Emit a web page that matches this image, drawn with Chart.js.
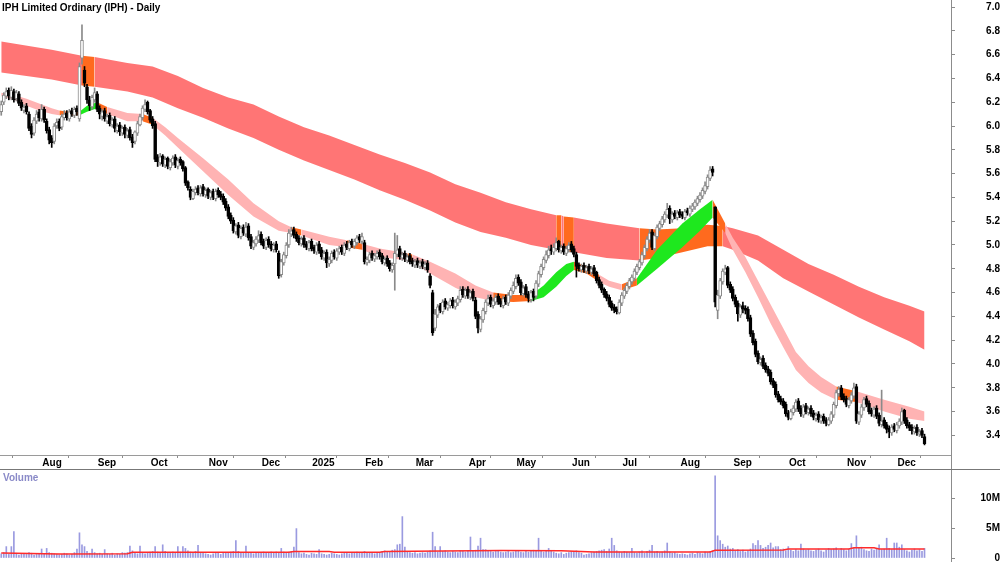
<!DOCTYPE html>
<html>
<head>
<meta charset="utf-8">
<script src="https://cdn.jsdelivr.net/npm/chart.js@4.4.1/dist/chart.umd.min.js"></script>
<style>
  body { margin: 0; width: 1000px; height: 562px; overflow: hidden; position: relative; background: #fff; font-family: "Liberation Sans", Arial, sans-serif; }
  #priceChart { position: absolute; left: 0; top: 0; }
  #volChart { position: absolute; left: 0; top: 470px; }
  .title { position: absolute; left: 2px; top: 2px; font-size: 10px; line-height: 12px; font-weight: bold; color: #000; }
  .volLabel { position: absolute; left: 3px; top: 472px; font-size: 10px; line-height: 12px; font-weight: bold; color: #8a8ac8; }
  .vline { position: absolute; left: 951px; top: 0; width: 1px; height: 562px; background: #8c8c8c; }
  .hline { position: absolute; left: 0; top: 469px; width: 1000px; height: 1px; background: #777; }
</style>
</head>
<body>
<canvas id="priceChart" width="1000" height="470"></canvas>
<canvas id="volChart" width="1000" height="92"></canvas>
<div class="vline"></div>
<div class="hline"></div>
<div class="title">IPH Limited Ordinary (IPH) - Daily</div>
<div class="volLabel">Volume</div>
<script>
// daily candles, 10 Jul 2024 .. 16 Dec 2025 (index = trading day)
const opens = [
6.12,6.20,6.25,6.30,6.24,6.29,6.23,6.27,6.20,6.13,
6.17,6.10,6.00,5.94,6.04,6.12,6.06,6.14,6.04,5.97,
5.90,5.87,6.00,6.04,5.99,6.07,6.11,6.06,6.13,6.09,
6.15,6.06,6.57,6.47,6.33,6.22,6.16,6.22,6.27,6.15,
6.08,6.13,6.04,6.09,6.01,6.06,5.96,6.01,5.94,5.99,
5.92,5.97,5.91,5.87,5.94,6.01,6.07,6.14,6.20,6.13,
6.06,6.02,5.74,5.69,5.75,5.67,5.73,5.65,5.69,5.74,
5.66,5.72,5.70,5.65,5.53,5.47,5.39,5.44,5.48,5.43,
5.49,5.42,5.47,5.40,5.45,5.39,5.46,5.43,5.41,5.37,
5.32,5.25,5.21,5.11,5.17,5.07,5.15,5.09,5.16,5.07,
4.98,5.01,5.04,5.09,5.03,4.98,5.05,5.01,4.96,5.01,
4.93,4.75,4.85,4.91,5.00,5.09,5.13,5.09,5.06,5.01,
5.06,5.01,4.97,5.03,4.98,4.94,5.01,4.96,4.89,4.94,
4.84,4.87,4.94,4.89,4.94,4.98,4.93,5.01,4.97,5.03,
4.99,5.02,5.07,5.03,5.02,4.85,4.87,4.93,4.88,4.90,
4.94,4.91,4.85,4.89,4.85,4.79,4.84,4.92,4.97,4.89,
4.93,4.87,4.91,4.87,4.83,4.87,4.82,4.86,4.81,4.85,
4.74,4.60,4.30,4.41,4.49,4.44,4.53,4.47,4.49,4.54,
4.48,4.51,4.54,4.63,4.57,4.63,4.56,4.61,4.54,4.42,
4.29,4.37,4.44,4.51,4.56,4.49,4.52,4.57,4.53,4.49,
4.56,4.51,4.57,4.61,4.65,4.73,4.69,4.59,4.65,4.59,
4.54,4.61,4.57,4.67,4.75,4.81,4.87,4.91,4.97,4.94,
4.97,5.03,4.95,4.99,4.93,4.96,5.01,4.97,4.92,4.83,
4.79,4.83,4.78,4.82,4.77,4.81,4.77,4.71,4.67,4.63,
4.59,4.56,4.51,4.48,4.46,4.43,4.51,4.57,4.61,4.65,
4.69,4.72,4.77,4.81,4.85,4.91,4.97,5.04,5.11,4.97,
5.07,5.14,5.17,5.21,5.25,5.31,5.21,5.27,5.23,5.28,
5.26,5.23,5.29,5.26,5.30,5.32,5.35,5.38,5.41,5.45,
5.49,5.56,5.64,5.32,4.45,4.57,4.69,4.77,4.81,4.67,
4.63,4.56,4.51,4.41,4.49,4.47,4.46,4.39,4.26,4.19,
4.09,4.01,4.05,3.99,3.96,3.93,3.86,3.83,3.75,3.71,
3.69,3.66,3.59,3.54,3.59,3.62,3.69,3.63,3.57,3.65,
3.59,3.63,3.59,3.54,3.58,3.52,3.56,3.53,3.49,3.52,
3.57,3.65,3.75,3.80,3.73,3.71,3.65,3.69,3.73,3.81,
3.51,3.57,3.63,3.71,3.67,3.61,3.57,3.63,3.57,3.49,
3.53,3.49,3.46,3.42,3.48,3.44,3.48,3.51,3.61,3.53,
3.49,3.47,3.43,3.47,3.41,3.44,3.39
];
const highs = [
6.21,6.28,6.32,6.32,6.33,6.31,6.30,6.29,6.22,6.18,
6.19,6.12,6.02,6.07,6.13,6.14,6.18,6.16,6.06,5.99,
5.92,6.02,6.06,6.06,6.10,6.13,6.13,6.14,6.15,6.16,
6.17,6.53,6.85,6.50,6.35,6.25,6.26,6.32,6.29,6.17,
6.14,6.15,6.10,6.11,6.07,6.08,6.02,6.03,6.00,6.01,
5.98,5.99,5.93,5.96,6.04,6.10,6.17,6.22,6.21,6.14,
6.08,6.04,5.76,5.77,5.76,5.74,5.74,5.72,5.75,5.76,
5.73,5.74,5.71,5.66,5.54,5.49,5.47,5.49,5.50,5.50,
5.51,5.48,5.48,5.46,5.47,5.47,5.48,5.45,5.43,5.39,
5.34,5.27,5.23,5.18,5.19,5.16,5.17,5.19,5.18,5.09,
5.04,5.07,5.12,5.11,5.05,5.06,5.07,5.03,5.02,5.03,
4.95,4.88,4.94,5.02,5.13,5.15,5.15,5.11,5.08,5.07,
5.08,5.03,5.04,5.05,5.00,5.02,5.03,4.98,4.95,4.96,
4.90,4.95,4.96,4.97,4.99,5.00,5.02,5.03,5.04,5.05,
5.05,5.08,5.09,5.10,5.04,4.90,4.94,4.95,4.93,4.95,
4.96,4.93,4.90,4.91,4.87,4.85,5.10,5.08,4.99,4.94,
4.95,4.92,4.93,4.89,4.88,4.89,4.87,4.88,4.86,4.87,
4.76,4.62,4.46,4.50,4.51,4.54,4.55,4.52,4.55,4.56,
4.54,4.57,4.65,4.65,4.64,4.65,4.62,4.63,4.56,4.44,
4.40,4.47,4.54,4.58,4.58,4.55,4.58,4.59,4.55,4.57,
4.58,4.60,4.64,4.69,4.75,4.75,4.71,4.66,4.67,4.61,
4.62,4.63,4.70,4.78,4.84,4.90,4.95,4.99,5.00,5.01,
5.06,5.04,5.00,5.01,4.99,5.02,5.03,4.99,4.94,4.85,
4.84,4.85,4.83,4.84,4.82,4.83,4.78,4.73,4.69,4.64,
4.61,4.58,4.53,4.50,4.48,4.54,4.60,4.64,4.68,4.72,
4.75,4.80,4.84,4.88,4.94,5.00,5.07,5.13,5.13,5.10,
5.17,5.20,5.24,5.28,5.35,5.33,5.28,5.29,5.29,5.30,
5.28,5.30,5.31,5.33,5.35,5.38,5.41,5.44,5.48,5.53,
5.59,5.66,5.66,5.32,4.62,4.72,4.80,4.83,4.82,4.69,
4.65,4.58,4.53,4.50,4.52,4.49,4.48,4.41,4.28,4.21,
4.11,4.06,4.07,4.01,3.98,3.95,3.88,3.85,3.77,3.73,
3.71,3.68,3.61,3.62,3.65,3.70,3.71,3.65,3.66,3.67,
3.64,3.65,3.61,3.59,3.60,3.57,3.58,3.55,3.55,3.60,
3.68,3.78,3.81,3.82,3.75,3.73,3.72,3.76,3.84,3.83,
3.60,3.66,3.72,3.73,3.69,3.63,3.64,3.65,3.59,3.78,
3.55,3.51,3.48,3.49,3.50,3.51,3.54,3.63,3.62,3.55,
3.51,3.49,3.48,3.49,3.45,3.46,3.41
];
const lows = [
6.09,6.18,6.23,6.22,6.22,6.20,6.21,6.17,6.13,6.11,
6.10,5.96,5.90,5.92,6.02,6.04,6.04,6.03,5.94,5.85,
5.82,5.85,5.98,5.96,5.97,6.05,6.05,6.04,6.08,6.07,
6.09,6.04,6.52,6.33,6.19,6.13,6.14,6.20,6.12,6.06,
6.05,6.04,6.02,6.00,5.99,5.95,5.94,5.92,5.92,5.90,
5.90,5.88,5.82,5.85,5.92,6.00,6.05,6.12,6.10,6.03,
5.98,5.70,5.66,5.67,5.66,5.65,5.64,5.63,5.67,5.65,
5.64,5.67,5.62,5.50,5.46,5.38,5.38,5.42,5.42,5.41,
5.41,5.40,5.39,5.38,5.38,5.37,5.40,5.38,5.34,5.29,
5.22,5.18,5.10,5.09,5.06,5.05,5.08,5.07,5.04,4.97,
4.96,4.99,5.02,5.00,4.97,4.96,4.98,4.95,4.94,4.94,
4.72,4.73,4.83,4.89,4.98,5.07,5.06,5.03,5.00,4.99,
4.98,4.96,4.95,4.95,4.93,4.92,4.93,4.88,4.87,4.81,
4.82,4.85,4.88,4.87,4.92,4.92,4.91,4.96,4.95,4.98,
4.97,5.00,5.02,5.01,4.84,4.83,4.85,4.87,4.86,4.88,
4.88,4.84,4.83,4.82,4.78,4.77,4.62,4.90,4.88,4.87,
4.86,4.85,4.84,4.82,4.81,4.81,4.80,4.80,4.79,4.77,
4.64,4.24,4.28,4.39,4.43,4.42,4.46,4.45,4.47,4.47,
4.46,4.49,4.52,4.56,4.55,4.55,4.54,4.53,4.38,4.26,
4.27,4.35,4.42,4.49,4.48,4.47,4.50,4.50,4.48,4.47,
4.50,4.49,4.55,4.59,4.63,4.66,4.58,4.57,4.56,4.52,
4.52,4.53,4.55,4.65,4.73,4.79,4.85,4.89,4.92,4.92,
4.95,4.94,4.93,4.92,4.91,4.94,4.94,4.90,4.73,4.78,
4.77,4.77,4.76,4.76,4.75,4.74,4.68,4.64,4.60,4.56,
4.53,4.48,4.45,4.43,4.42,4.42,4.49,4.55,4.59,4.63,
4.67,4.70,4.75,4.79,4.83,4.89,4.95,5.02,4.96,4.95,
5.05,5.12,5.15,5.19,5.23,5.18,5.19,5.22,5.21,5.23,
5.22,5.21,5.25,5.24,5.28,5.30,5.33,5.36,5.39,5.43,
5.47,5.54,5.58,4.48,4.38,4.55,4.67,4.75,4.64,4.60,
4.53,4.48,4.36,4.39,4.43,4.42,4.36,4.23,4.16,4.06,
4.00,3.99,3.96,3.93,3.90,3.83,3.80,3.72,3.68,3.66,
3.63,3.56,3.53,3.53,3.57,3.60,3.60,3.56,3.55,3.58,
3.57,3.56,3.53,3.52,3.51,3.50,3.50,3.48,3.48,3.50,
3.55,3.63,3.73,3.70,3.68,3.64,3.63,3.67,3.71,3.50,
3.49,3.55,3.61,3.64,3.58,3.56,3.55,3.54,3.48,3.47,
3.46,3.42,3.38,3.40,3.43,3.42,3.46,3.49,3.50,3.46,
3.44,3.41,3.41,3.40,3.39,3.38,3.32
];
const closes = [
6.18,6.26,6.29,6.25,6.30,6.22,6.28,6.19,6.15,6.16,
6.12,5.98,5.93,6.05,6.10,6.07,6.14,6.05,5.96,5.88,
5.86,6.00,6.03,5.98,6.08,6.10,6.07,6.12,6.10,6.14,
6.12,6.50,6.72,6.36,6.22,6.17,6.24,6.28,6.14,6.10,
6.12,6.06,6.08,6.02,6.05,5.98,6.00,5.95,5.98,5.93,
5.96,5.90,5.86,5.95,6.02,6.08,6.15,6.18,6.12,6.05,
6.00,5.72,5.70,5.74,5.68,5.72,5.66,5.70,5.73,5.67,
5.71,5.69,5.64,5.52,5.48,5.40,5.45,5.47,5.44,5.48,
5.43,5.46,5.41,5.44,5.40,5.45,5.42,5.40,5.36,5.31,
5.24,5.20,5.12,5.16,5.08,5.14,5.10,5.15,5.06,4.99,
5.02,5.05,5.08,5.02,4.99,5.04,5.00,4.97,5.00,4.96,
4.74,4.86,4.92,5.00,5.10,5.12,5.08,5.05,5.02,5.05,
5.00,4.98,5.02,4.97,4.95,5.00,4.95,4.90,4.93,4.85,
4.88,4.93,4.90,4.95,4.97,4.94,5.00,4.98,5.02,5.00,
5.03,5.06,5.04,5.07,4.86,4.88,4.92,4.89,4.91,4.93,
4.90,4.86,4.88,4.84,4.80,4.83,4.93,4.96,4.90,4.92,
4.88,4.90,4.86,4.84,4.86,4.83,4.85,4.82,4.84,4.79,
4.66,4.26,4.42,4.48,4.45,4.52,4.48,4.50,4.53,4.49,
4.52,4.55,4.62,4.58,4.62,4.57,4.60,4.55,4.40,4.30,
4.38,4.45,4.52,4.55,4.50,4.53,4.56,4.52,4.50,4.55,
4.52,4.58,4.62,4.66,4.72,4.68,4.60,4.64,4.58,4.55,
4.60,4.56,4.68,4.76,4.82,4.88,4.92,4.96,4.95,4.98,
5.02,4.96,4.98,4.94,4.97,5.00,4.96,4.92,4.82,4.80,
4.82,4.79,4.81,4.78,4.80,4.76,4.70,4.66,4.62,4.58,
4.55,4.50,4.47,4.45,4.44,4.52,4.58,4.62,4.66,4.70,
4.73,4.78,4.82,4.86,4.92,4.98,5.05,5.10,4.98,5.08,
5.15,5.18,5.22,5.26,5.30,5.22,5.26,5.24,5.27,5.25,
5.24,5.28,5.27,5.31,5.33,5.36,5.39,5.42,5.46,5.50,
5.57,5.63,5.61,4.52,4.58,4.70,4.78,4.80,4.66,4.62,
4.55,4.50,4.42,4.48,4.46,4.45,4.38,4.25,4.18,4.08,
4.02,4.04,3.98,3.95,3.92,3.85,3.82,3.74,3.70,3.68,
3.65,3.58,3.55,3.60,3.63,3.68,3.62,3.58,3.64,3.60,
3.62,3.58,3.55,3.57,3.53,3.55,3.52,3.50,3.53,3.58,
3.66,3.76,3.79,3.72,3.70,3.66,3.70,3.74,3.80,3.52,
3.58,3.64,3.70,3.66,3.60,3.58,3.62,3.56,3.50,3.52,
3.48,3.45,3.43,3.47,3.45,3.49,3.52,3.60,3.52,3.48,
3.46,3.44,3.46,3.42,3.43,3.40,3.33
];
// volume, millions of shares
const volumes = [
0.7,0.9,1.9,0.6,1.9,4.4,0.8,0.5,0.7,0.6,
0.6,0.9,0.8,0.5,0.6,0.7,1.5,0.6,1.6,0.9,
0.8,0.7,0.6,0.5,0.6,0.8,0.7,0.5,0.6,0.9,
1.5,4.2,2.2,1.9,1.1,0.8,1.5,0.9,0.7,0.8,
0.6,1.4,0.7,0.6,0.8,0.5,0.7,0.6,0.9,0.8,
0.9,2.0,1.2,0.8,0.7,2.0,0.8,0.7,0.9,1.0,
1.1,1.9,1.0,0.9,2.2,1.1,0.8,0.9,1.0,0.9,
1.9,1.0,1.9,1.6,1.2,1.0,0.9,1.1,2.1,0.9,
0.8,0.7,0.6,0.5,0.7,0.8,0.9,0.6,0.8,0.9,
0.8,1.0,1.1,2.9,1.1,0.9,0.9,2.0,0.9,0.8,
0.7,0.9,0.8,0.9,1.0,0.8,0.9,1.0,0.8,1.0,
0.9,1.6,1.0,0.9,1.0,1.1,1.8,4.9,0.9,0.7,
0.8,0.6,0.5,0.8,0.7,0.6,1.4,0.7,0.6,0.5,
0.6,0.8,0.7,0.6,0.5,0.7,0.9,0.8,0.7,0.9,
0.8,1.0,0.9,0.8,1.1,0.9,0.8,0.9,0.7,0.8,
0.9,1.1,1.2,1.0,1.1,1.3,1.4,2.2,2.3,6.9,
1.8,1.0,0.9,0.8,0.9,0.7,0.8,0.9,0.8,1.0,
1.2,4.3,1.9,1.0,1.9,1.1,1.2,1.0,0.9,1.1,
1.0,0.9,1.2,1.1,1.0,1.2,3.5,1.1,1.3,2.0,
3.3,1.4,1.4,1.2,1.1,1.0,1.1,1.2,1.0,0.9,
1.0,1.1,0.9,1.0,1.1,1.2,1.0,0.9,1.1,1.0,
1.2,1.3,1.1,3.3,1.2,1.0,1.1,1.6,1.2,1.0,
0.8,0.7,0.9,0.6,0.8,0.9,1.1,1.0,1.2,0.9,
0.8,0.5,0.6,0.7,0.9,1.0,1.1,1.2,1.3,1.4,
1.1,1.5,3.3,2.1,1.2,1.0,0.9,1.1,1.0,0.9,
1.6,0.9,0.8,1.0,1.2,0.8,1.1,1.3,2.1,1.0,
1.1,0.9,1.0,1.2,2.5,1.0,0.8,0.9,0.7,0.6,
0.7,0.6,0.5,0.7,0.8,0.6,0.9,0.8,0.7,1.0,
0.9,1.1,1.2,13.7,3.7,2.9,2.3,1.8,2.0,1.5,
1.6,1.2,1.4,1.1,1.3,1.0,1.2,1.5,2.4,2.1,
2.9,2.1,1.6,1.8,2.1,2.5,1.7,1.9,1.9,1.4,
1.5,1.2,1.9,1.3,1.1,1.4,1.2,2.3,1.5,1.3,
1.4,1.2,1.1,1.3,1.5,1.2,1.0,1.3,1.6,1.4,
1.5,1.7,1.3,1.6,1.4,1.2,1.5,2.4,1.6,3.7,
1.7,1.8,1.4,1.2,1.1,1.5,1.3,1.6,2.2,1.4,
1.5,3.3,1.6,1.4,2.5,2.5,1.8,2.2,1.4,1.2,
1.0,1.3,1.5,1.2,1.4,1.1,1.6
];
// volume average line, read at these days
const volMaDays = [0,23,50,52,114,116,130,132,150,152,198,222,235,281,283,310,312,336,338,346,348,366];
const volMa = [0.85,0.65,0.7,0.95,0.95,1.1,1.1,0.95,0.95,1.1,1.25,1.2,1.0,1.0,1.3,1.35,1.5,1.5,1.7,1.7,1.5,1.5];

// long-term band (red) edges, read at these days
const longDays = [0,20,32,37,50,60,70,80,90,100,110,120,130,140,150,160,170,180,190,200,210,220,222,223,227,240,253,260,270,280,286,290,300,310,320,330,340,350,360,366];
const longTop = [6.71,6.64,6.59,6.58,6.53,6.50,6.42,6.32,6.24,6.18,6.08,5.99,5.92,5.84,5.76,5.69,5.61,5.51,5.44,5.36,5.30,5.25,5.25,5.24,5.23,5.18,5.14,5.13,5.14,5.17,5.16,5.14,5.08,4.96,4.84,4.75,4.65,4.56,4.49,4.44];
const longBot = [6.45,6.39,6.34,6.33,6.29,6.24,6.15,6.07,5.98,5.90,5.80,5.71,5.63,5.55,5.46,5.38,5.29,5.19,5.11,5.06,5.00,4.96,4.95,4.95,4.94,4.89,4.87,4.89,4.94,4.99,4.99,4.96,4.87,4.72,4.61,4.50,4.39,4.29,4.19,4.12];
const longOrange = [[32,37],[220,222],[223,227],[253,286]];

// short-term band (pink) edges
const shortDays = [0,5,10,15,20,23,27,31,34,38,42,50,56,60,65,70,80,90,100,110,115,119,130,137,143,150,161,163,170,180,188,195,203,210,215,220,224,227,232,237,241,246,252,260,270,277,282,287,290,295,300,305,310,315,320,325,331,339,350,360,366];
const shortTop = [6.28,6.26,6.23,6.19,6.15,6.13,6.12,6.12,6.17,6.20,6.16,6.11,6.10,6.07,5.99,5.90,5.73,5.55,5.35,5.20,5.15,5.13,5.07,5.04,5.01,4.97,4.93,4.92,4.86,4.76,4.66,4.60,4.58,4.58,4.66,4.77,4.84,4.86,4.82,4.75,4.70,4.67,4.72,4.96,5.18,5.30,5.38,5.18,5.06,4.90,4.70,4.50,4.30,4.10,3.98,3.89,3.81,3.77,3.70,3.64,3.60];
const shortBot = [6.25,6.22,6.17,6.13,6.10,6.09,6.09,6.09,6.12,6.15,6.10,6.04,6.04,6.01,5.92,5.82,5.62,5.42,5.24,5.12,5.10,5.08,5.00,4.98,4.96,4.90,4.87,4.86,4.76,4.64,4.56,4.53,4.52,4.53,4.56,4.65,4.74,4.79,4.76,4.69,4.65,4.62,4.66,4.80,4.98,5.12,5.23,5.10,4.96,4.77,4.56,4.34,4.14,3.95,3.84,3.76,3.70,3.68,3.60,3.54,3.52];
const shortOrange = [[23,31],[38,42],[56,60],[115,119],[137,143],[161,163],[195,210],[227,237],[246,252],[282,287],[331,339]];
const shortGreen = [[31,38],[210,227],[252,282]];

const priceTicks = [3.4,3.6,3.8,4.0,4.2,4.4,4.6,4.8,5.0,5.2,5.4,5.6,5.8,6.0,6.2,6.4,6.6,6.8,7.0];
const volTicks = [0,5,10];
const monthStarts = [16,38,59,82,103,123,144,164,185,204,226,246,269,290,312,335,355];
const monthLabels = ['Aug','Sep','Oct','Nov','Dec','2025','Feb','Mar','Apr','May','Jun','Jul','Aug','Sep','Oct','Nov','Dec'];

const RED = '#ff7575';
const PINK = '#ffb3b3';
const ORANGE = '#ff6a1e';
const GREEN = '#1ee81e';
const FONT = { family: '"Liberation Sans", Arial, sans-serif', size: 10, weight: 'bold' };

Chart.defaults.font.family = FONT.family;
Chart.defaults.animation = false;

const pts = (days, vals) => days.map((x, k) => ({ x, y: vals[k] }));
const isUp = i => closes[i] >= opens[i];

function bandColor(base, ranges) {
    return ctx => {
        const a = ctx.p0.parsed.x, b = ctx.p1.parsed.x;
        for (const [col, list] of ranges) {
            for (const r of list) {
                if (a >= r[0] && b <= r[1]) return col;
            }
        }
        return base;
    };
}

const edge = (data, order) => ({
    type: 'line', data, order, pointRadius: 0, borderWidth: 0,
    borderColor: 'transparent', fill: false
});
const fillEdge = (data, order, base, ranges) => ({
    type: 'line', data, order, pointRadius: 0, borderWidth: 0,
    borderColor: 'transparent', fill: '-1', backgroundColor: base,
    segment: { backgroundColor: bandColor(base, ranges) }
});

// no auto padding around the plot: the axes sit right on the canvas edges
const noPad = s => { s.paddingTop = 0; s.paddingBottom = 0; s.paddingLeft = 0; s.paddingRight = 0; };
const xRange = { type: 'linear', min: -0.5, max: 376.5, offset: false };

new Chart(document.getElementById('priceChart'), {
    type: 'bar',
    data: {
        datasets: [
            edge(pts(longDays, longTop), 20),
            fillEdge(pts(longDays, longBot), 20, RED, [[ORANGE, longOrange]]),
            edge(pts(shortDays, shortTop), 10),
            fillEdge(pts(shortDays, shortBot), 10, PINK, [[ORANGE, shortOrange], [GREEN, shortGreen]]),
            {
                type: 'bar', order: 2, grouped: false, barThickness: 1,
                data: lows.map((l, i) => ({ x: i, y: [l, highs[i]] })),
                backgroundColor: ctx => isUp(ctx.dataIndex) ? '#8a8a8a' : '#000'
            },
            {
                type: 'bar', order: 1, grouped: false, barThickness: 3, minBarLength: 1,
                borderWidth: 1, borderSkipped: false,
                data: opens.map((o, i) => ({ x: i, y: [o, closes[i]] })),
                backgroundColor: ctx => isUp(ctx.dataIndex) ? '#fff' : '#000',
                borderColor: ctx => isUp(ctx.dataIndex) ? '#8a8a8a' : '#000'
            }
        ]
    },
    options: {
        responsive: false,
        layout: { padding: 0, autoPadding: false },
        plugins: { legend: { display: false }, tooltip: { enabled: false } },
        scales: {
            x: {
                ...xRange,
                afterBuildTicks: s => { s.ticks = monthStarts.map(v => ({ value: v - 0.5 })); },
                afterFit: s => { s.height = 15; noPad(s); },
                grid: { drawOnChartArea: false, tickLength: 3, color: '#8c8c8c' },
                border: { display: true, color: '#9a9a9a' },
                ticks: {
                    autoSkip: false, maxRotation: 0, align: 'start', labelOffset: 2, padding: -1,
                    color: '#000', font: FONT,
                    callback: (v, i) => monthLabels[i]
                }
            },
            y: {
                position: 'right', min: 3.235, max: 7.059,
                afterBuildTicks: s => { s.ticks = priceTicks.map(v => ({ value: v })); },
                afterFit: s => { s.width = 49; noPad(s); },
                grid: { drawOnChartArea: false, tickLength: 4, color: '#8c8c8c' },
                border: { display: false },
                ticks: { crossAlign: 'far', padding: 28, color: '#000', font: FONT, callback: v => v.toFixed(1) }
            }
        }
    }
});

new Chart(document.getElementById('volChart'), {
    type: 'bar',
    data: {
        datasets: [
            {
                type: 'line', order: 1, data: pts(volMaDays, volMa),
                borderColor: '#ff2a2a', borderWidth: 1.5, pointRadius: 0, fill: false
            },
            {
                type: 'bar', order: 2, grouped: false, barThickness: 1,
                data: volumes.map((v, i) => ({ x: i, y: v })),
                backgroundColor: '#9a9ae0'
            }
        ]
    },
    options: {
        responsive: false,
        layout: { padding: { bottom: 4 }, autoPadding: false },
        plugins: { legend: { display: false }, tooltip: { enabled: false } },
        scales: {
            x: { ...xRange, display: false },
            y: {
                position: 'right', min: 0, max: 14.667,
                afterBuildTicks: s => { s.ticks = volTicks.map(v => ({ value: v })); },
                afterFit: s => { s.width = 49; noPad(s); },
                grid: { drawOnChartArea: false, tickLength: 4, color: '#8c8c8c' },
                border: { display: false },
                ticks: { crossAlign: 'far', padding: 23, color: '#000', font: FONT, callback: v => v === 0 ? '0' : v + 'M' }
            }
        }
    }
});
</script>
</body>
</html>
